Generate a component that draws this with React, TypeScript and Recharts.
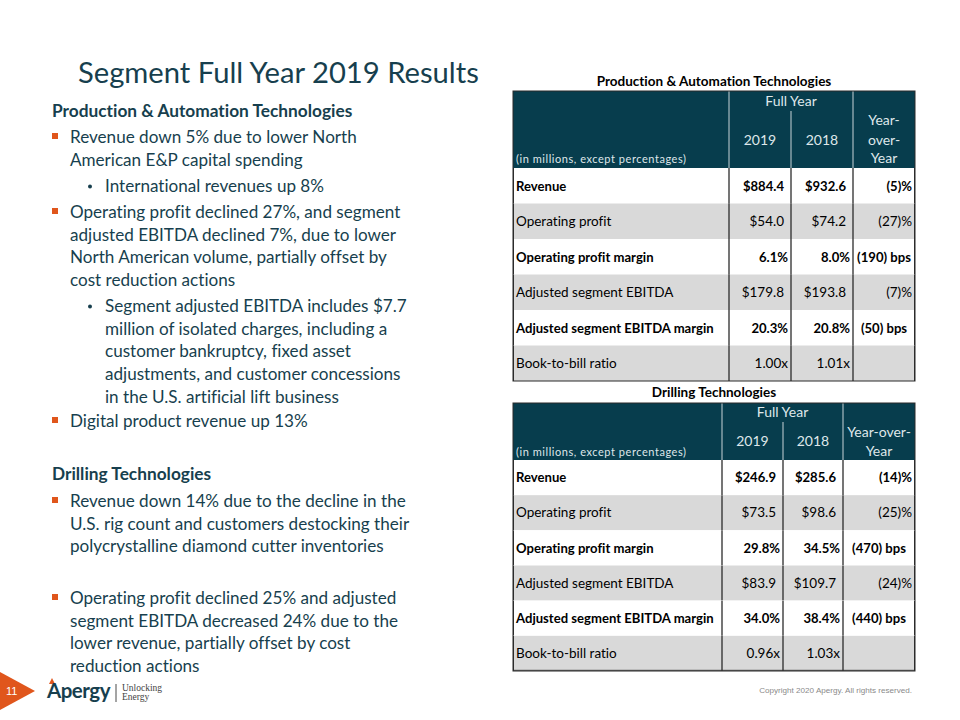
import React from 'react'
import { BarChart, Bar, XAxis, YAxis } from 'recharts'

const FONT = 'Lato, Calibri, Carlito, "Open Sans", sans-serif'
const TEAL = '#173f4e'
const ORANGE = '#e0561c'
const HEAD_BG = '#073d4d'
const ROW_GRAY = '#d9d9d9'
const NOLIG = { fontVariantLigatures: 'none' as const }

// table data
const metrics = [
  'Revenue',
  'Operating profit',
  'Operating profit margin',
  'Adjusted segment EBITDA',
  'Adjusted segment EBITDA margin',
  'Book-to-bill ratio',
]
const boldRows = [true, false, true, false, true, false]

const patFy2019 = ['$884.4', '$54.0', '6.1%', '$179.8', '20.3%', '1.00x']
const patFy2018 = ['$932.6', '$74.2', '8.0%', '$193.8', '20.8%', '1.01x']
const patYoy = ['(5)%', '(27)%', '(190) bps', '(7)%', '(50) bps', '']

const drillFy2019 = ['$246.9', '$73.5', '29.8%', '$83.9', '34.0%', '0.96x']
const drillFy2018 = ['$285.6', '$98.6', '34.5%', '$109.7', '38.4%', '1.03x']
const drillYoy = ['(14)%', '(25)%', '(470) bps', '(24)%', '(440) bps', '']

// slide text
const title = 'Segment Full Year 2019 Results'
const leftParas: { kind: 'head' | 'main' | 'sub'; lines: string[] }[] = [
  { kind: 'head', lines: ['Production & Automation Technologies'] },
  { kind: 'main', lines: ['Revenue down 5% due to lower North', 'American E&P capital spending'] },
  { kind: 'sub', lines: ['International revenues up 8%'] },
  {
    kind: 'main',
    lines: [
      'Operating profit declined 27%, and segment',
      'adjusted EBITDA declined 7%, due to lower',
      'North American volume, partially offset by',
      'cost reduction actions',
    ],
  },
  {
    kind: 'sub',
    lines: [
      'Segment adjusted EBITDA includes $7.7',
      'million of isolated charges, including a',
      'customer bankruptcy, fixed asset',
      'adjustments, and customer concessions',
      'in the U.S. artificial lift business',
    ],
  },
  { kind: 'main', lines: ['Digital product revenue up 13%'] },
  { kind: 'head', lines: ['Drilling Technologies'] },
  {
    kind: 'main',
    lines: [
      'Revenue down 14% due to the decline in the',
      'U.S. rig count and customers destocking their',
      'polycrystalline diamond cutter inventories',
    ],
  },
  {
    kind: 'main',
    lines: [
      'Operating profit declined 25% and adjusted',
      'segment EBITDA decreased 24% due to the',
      'lower revenue, partially offset by cost',
      'reduction actions',
    ],
  },
]
// first-line baselines of the paragraphs above
const paraBaselines = [117, 143, 192, 218, 312, 427, 480, 507, 604]
const LINE_H = 22.7

interface TableLayout {
  title: string
  cols: number[]
  headTop: number
  headBottom: number
  bodyBottom: number
  titleY: number
  fullYearY: number
  splitTop: number
  yearY: number
  yoyLines: string[]
  yoyY: number[]
  unitY: number
}

const patLayout: TableLayout = {
  title: 'Production & Automation Technologies',
  cols: [513, 729, 791, 853, 915],
  headTop: 91,
  headBottom: 168,
  bodyBottom: 381,
  titleY: 86,
  fullYearY: 106,
  splitTop: 111,
  yearY: 145,
  yoyLines: ['Year-', 'over-', 'Year'],
  yoyY: [125, 145, 163],
  unitY: 163,
}

const drillLayout: TableLayout = {
  title: 'Drilling Technologies',
  cols: [513, 722, 783, 843, 915],
  headTop: 403,
  headBottom: 460,
  bodyBottom: 671,
  titleY: 397,
  fullYearY: 417,
  splitTop: 422,
  yearY: 446,
  yoyLines: ['Year-over-', 'Year'],
  yoyY: [437, 456],
  unitY: 456,
}

function TableHeader({ t }: { t: TableLayout }) {
  const [c0, c1, c2, c3, c4] = t.cols
  const light = '#dfe7ea'
  const head = { fontFamily: FONT, fontSize: 14, fill: light, style: NOLIG }
  return (
    <g>
      <text
        x={(c0 + c4) / 2}
        y={t.titleY}
        textAnchor="middle"
        fontFamily={FONT}
        fontWeight={700}
        fontSize={13.5}
        fill="#000"
        style={NOLIG}
      >
        {t.title}
      </text>
      <rect x={c0} y={t.headTop} width={c4 - c0} height={t.headBottom - t.headTop} fill={HEAD_BG} />
      <line x1={c1} x2={c1} y1={t.headTop} y2={t.headBottom} stroke="#c9d4d8" strokeWidth={1} />
      <line x1={c3} x2={c3} y1={t.headTop} y2={t.headBottom} stroke="#c9d4d8" strokeWidth={1} />
      <line x1={c2} x2={c2} y1={t.splitTop} y2={t.headBottom} stroke="#c9d4d8" strokeWidth={1} />
      <text x={(c1 + c3) / 2} y={t.fullYearY} textAnchor="middle" {...head}>
        Full Year
      </text>
      <text x={(c1 + c2) / 2} y={t.yearY} textAnchor="middle" {...head}>
        2019
      </text>
      <text x={(c2 + c3) / 2} y={t.yearY} textAnchor="middle" {...head}>
        2018
      </text>
      {t.yoyLines.map((s, i) => (
        <text key={s} x={(c3 + c4) / 2} y={t.yoyY[i]} textAnchor="middle" {...head}>
          {s}
        </text>
      ))}
      <text x={c0 + 3} y={t.unitY} fontFamily={FONT} fontSize={11} letterSpacing={0.55} fill={light}>
        (in millions, except percentages)
      </text>
      <rect
        x={c0}
        y={t.headTop}
        width={c4 - c0}
        height={t.bodyBottom - t.headTop}
        fill="none"
        stroke="#2b2b2b"
        strokeWidth={1}
      />
    </g>
  )
}

function makeRowShape(cols: number[], rowCount: number) {
  const rel = cols.map((c) => c - cols[0])
  return (props: any) => {
    const { x, y, width, height, index, payload } = props
    const bold = boldRows[index]
    const base = y + height / 2 + 4.8
    const fw = bold ? 700 : 400
    const fs = bold ? 13.1 : 13.5
    const valueX = (v: string, right: number) => {
      const tight = v.endsWith('%') || v.endsWith('x')
      return right - (tight ? 3 : 7)
    }
    const common = { fontFamily: FONT, fontSize: fs, fontWeight: fw, fill: '#000', style: NOLIG }
    return (
      <g>
        <rect x={x} y={y} width={width} height={height} fill={index % 2 === 1 ? ROW_GRAY : '#fff'} />
        {[rel[1], rel[2], rel[3]].map((cx) => (
          <line key={cx} x1={x + cx} x2={x + cx} y1={y} y2={y + height} stroke="#2b2b2b" strokeWidth={1.3} />
        ))}
        <line x1={x + 0.5} x2={x + 0.5} y1={y} y2={y + height} stroke="#2b2b2b" strokeWidth={1} />
        <line x1={x + width - 0.5} x2={x + width - 0.5} y1={y} y2={y + height} stroke="#2b2b2b" strokeWidth={1} />
        {index === rowCount - 1 && (
          <line x1={x} x2={x + width} y1={y + height - 0.5} y2={y + height - 0.5} stroke="#2b2b2b" strokeWidth={1} />
        )}
        <text x={x + 3} y={base} {...common}>
          {payload.metric}
        </text>
        <text x={x + valueX(payload.fy2019, rel[2])} y={base} textAnchor="end" {...common}>
          {payload.fy2019}
        </text>
        <text x={x + valueX(payload.fy2018, rel[3])} y={base} textAnchor="end" {...common}>
          {payload.fy2018}
        </text>
        {payload.yoy.endsWith('bps') ? (
          <text x={x + (rel[3] + rel[4]) / 2} y={base} textAnchor="middle" {...common}>
            {payload.yoy}
          </text>
        ) : (
          <text x={x + rel[4] - 3} y={base} textAnchor="end" {...common}>
            {payload.yoy}
          </text>
        )}
      </g>
    )
  }
}

function SegmentTable({ t, fy2019, fy2018, yoy }: { t: TableLayout; fy2019: string[]; fy2018: string[]; yoy: string[] }) {
  const rows = metrics.map((m, i) => ({ metric: m, fy2019: fy2019[i], fy2018: fy2018[i], yoy: yoy[i], span: 1 }))
  const left = t.cols[0]
  const width = t.cols[4] - left
  const height = t.bodyBottom - t.headBottom
  return (
    <div style={{ position: 'absolute', left, top: t.headBottom, width, height }}>
      <BarChart
        width={width}
        height={height}
        data={rows}
        layout="vertical"
        margin={{ top: 0, right: 0, bottom: 0, left: 0 }}
        barCategoryGap={0}
        barGap={0}
      >
        <XAxis type="number" domain={[0, 1]} hide />
        <YAxis type="category" dataKey="metric" hide />
        <Bar dataKey="span" isAnimationActive={false} shape={makeRowShape(t.cols, rows.length)} />
      </BarChart>
    </div>
  )
}

export default function App() {
  return (
    <div
      style={{
        position: 'absolute',
        left: 0,
        top: 0,
        width: 960,
        height: 720,
        background: '#fff',
        overflow: 'hidden',
      }}
    >
      <svg width={960} height={720} style={{ position: 'absolute', left: 0, top: 0 }}>
        <text x={78} y={83} fontFamily={FONT} fontSize={29.2} fill={TEAL}>
          {title}
        </text>

        {leftParas.map((p, i) => {
          const y0 = paraBaselines[i]
          const x = p.kind === 'head' ? 52 : p.kind === 'main' ? 70 : 105
          return (
            <g key={i}>
              {p.kind === 'main' && <rect x={52} y={y0 - 10} width={6} height={6} fill={ORANGE} />}
              {p.kind === 'sub' && <circle cx={90} cy={y0 - 5.5} r={2} fill={TEAL} />}
              <text
                x={x}
                y={y0}
                fontFamily={FONT}
                fontSize={p.kind === 'head' ? 17.3 : 17.1}
                fontWeight={p.kind === 'head' ? 700 : 400}
                fill={TEAL}
                style={NOLIG}
              >
                {p.lines.map((s, k) => (
                  <tspan key={k} x={x} y={y0 + k * LINE_H}>
                    {s}
                  </tspan>
                ))}
              </text>
            </g>
          )
        })}

        <TableHeader t={patLayout} />
        <TableHeader t={drillLayout} />

        {/* footer */}
        <polygon points="0,672 35,691 0,710" fill={ORANGE} />
        <text x={6} y={695} fontFamily="Liberation Sans, Arial, sans-serif" fontSize={11} fill="#fff">
          11
        </text>
        <polygon points="52,678 55,684 49,684" fill={ORANGE} />
        <text x={47} y={698} fontFamily={FONT} fontSize={20.5} fontWeight={700} letterSpacing={-0.5} fill={TEAL}>
          Apergy
        </text>
        <line x1={116} x2={116} y1={684} y2={702} stroke="#4a4a4a" strokeWidth={1} />
        <text x={122} y={691} fontFamily="Liberation Serif, serif" fontSize={9.5} fill="#444">
          Unlocking
        </text>
        <text x={122} y={700} fontFamily="Liberation Serif, serif" fontSize={9.5} fill="#444">
          Energy
        </text>
        <text
          x={912}
          y={693}
          textAnchor="end"
          fontFamily="Liberation Sans, Arial, sans-serif"
          fontSize={8.1}
          fill="#8a8a8a"
        >
          Copyright 2020 Apergy. All rights reserved.
        </text>
      </svg>

      <SegmentTable t={patLayout} fy2019={patFy2019} fy2018={patFy2018} yoy={patYoy} />
      <SegmentTable t={drillLayout} fy2019={drillFy2019} fy2018={drillFy2018} yoy={drillYoy} />
    </div>
  )
}
